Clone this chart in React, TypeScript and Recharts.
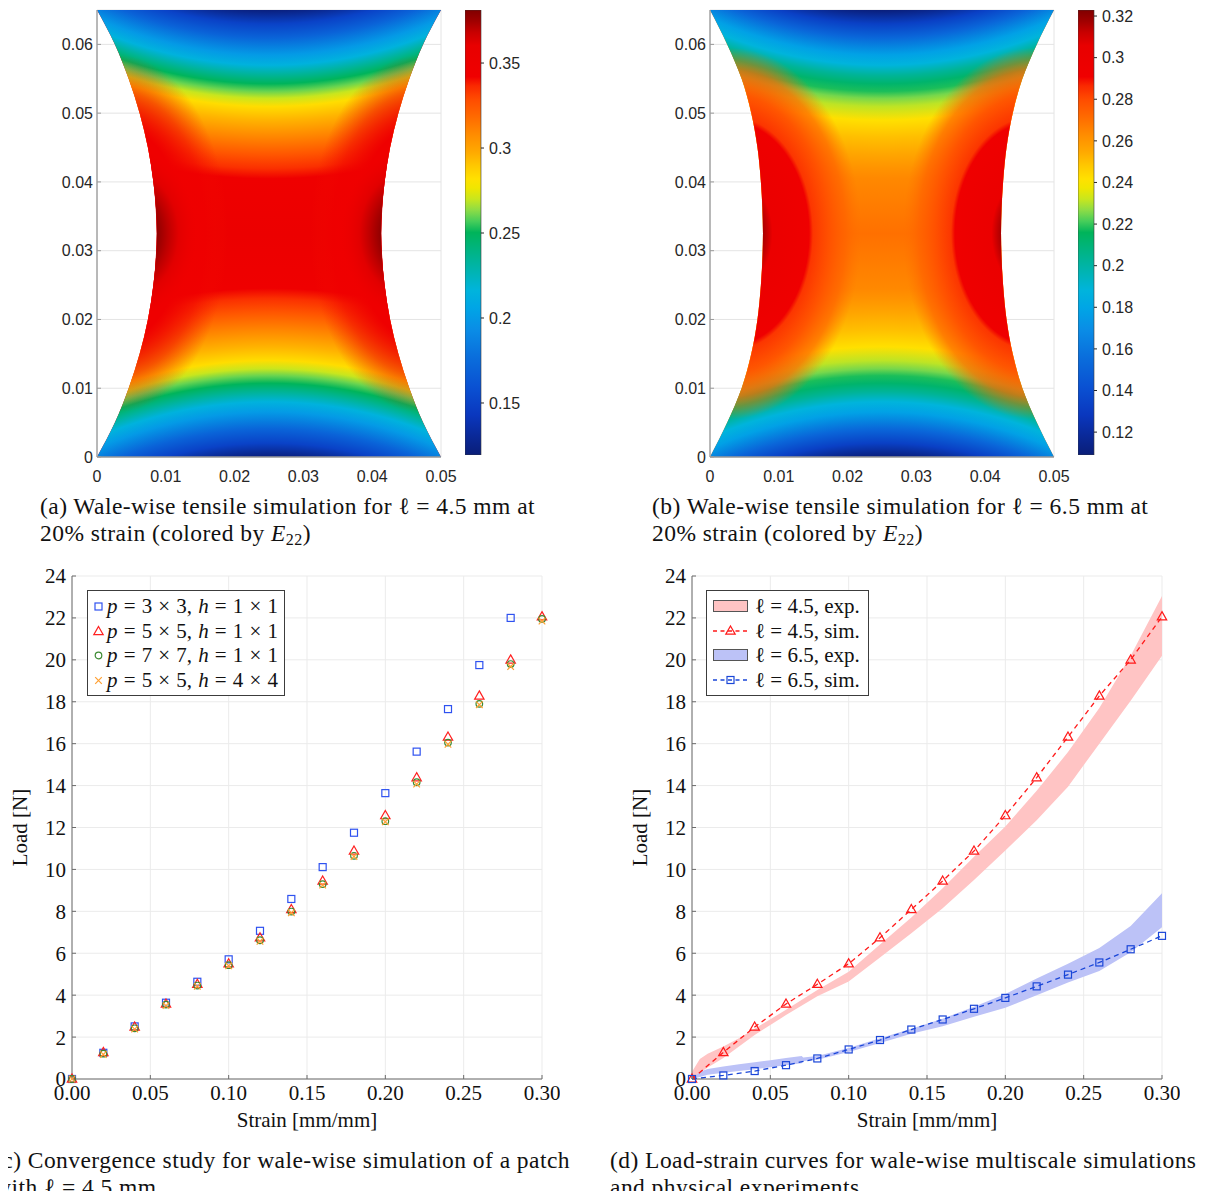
import React from "react";
import {
  ComposedChart,
  BarChart,
  Bar,
  Area,
  Line,
  Scatter,
  XAxis,
  YAxis,
  CartesianGrid,
  Legend,
  Label,
} from "recharts";

const SANS = "'Liberation Sans', Arial, sans-serif";
const SERIF = "'Liberation Serif', 'Times New Roman', serif";

// ---------- specimen outline: edge x [m] at each height y [m]
const shapeY = [0, 0.005, 0.01, 0.015, 0.02, 0.025, 0.0325, 0.04, 0.045, 0.05, 0.055, 0.06, 0.065];
const leftEdgeA = [0, 0.0026, 0.0046, 0.0062, 0.0074, 0.0082, 0.0087, 0.0082, 0.0074, 0.0062, 0.0046, 0.0026, 0];
const rightEdgeA = [0.05, 0.0474, 0.0454, 0.0438, 0.0426, 0.0418, 0.0413, 0.0418, 0.0426, 0.0438, 0.0454, 0.0474, 0.05];
const leftEdgeB = [0, 0.0025, 0.0046, 0.006, 0.0069, 0.0074, 0.0077, 0.0074, 0.0069, 0.006, 0.0046, 0.0025, 0];
const rightEdgeB = [0.05, 0.0475, 0.0454, 0.044, 0.0431, 0.0426, 0.0423, 0.0426, 0.0431, 0.044, 0.0454, 0.0475, 0.05];

// E22 on the centre line, by distance from the clamped edge
const clampDist = [0, 0.002, 0.004, 0.0065, 0.008, 0.0095, 0.0107, 0.0118, 0.0128, 0.014, 0.016, 0.0185, 0.021, 0.023, 0.0245, 0.0325];
const e22CentreA = [0.122, 0.15, 0.17, 0.2, 0.215, 0.235, 0.25, 0.26, 0.27, 0.283, 0.295, 0.31, 0.325, 0.335, 0.345, 0.35];
const e22CentreB = [0.11, 0.133, 0.152, 0.178, 0.188, 0.203, 0.212, 0.218, 0.225, 0.231, 0.242, 0.25, 0.256, 0.261, 0.264, 0.27];

// E22 in the concentrations at the free edges (radial position 0..1)
const haloAtA = [0, 0.6, 0.8, 1];
const haloE22A = [0.345, 0.345, 0.342, 0.34];
const haloAlphaA = [1, 1, 0.55, 0];
const coreAtA = [0, 0.45, 0.6, 0.75, 0.9, 1];
const coreE22A = [0.381, 0.378, 0.37, 0.362, 0.355, 0.35];
const coreAlphaA = [1, 1, 1, 0.95, 0.6, 0];
const lobeAtB = [0, 0.25, 0.32, 0.6, 0.63, 0.75, 0.88, 1];
const lobeE22B = [0.323, 0.316, 0.3, 0.292, 0.284, 0.279, 0.274, 0.27];
const lobeAlphaB = [1, 1, 1, 1, 1, 0.95, 0.7, 0];

// colour bars
const cbRangeA = [0.1194, 0.3812];
const cbTicksA = [0.15, 0.2, 0.25, 0.3, 0.35];
const cbRangeB = [0.109, 0.3229];
const cbTicksB = [0.12, 0.14, 0.16, 0.18, 0.2, 0.22, 0.24, 0.26, 0.28, 0.3, 0.32];
const specXTicks = [0, 0.01, 0.02, 0.03, 0.04, 0.05];
const specYTicks = [0, 0.01, 0.02, 0.03, 0.04, 0.05, 0.06];

// ---------- load-strain data
const strain = [0, 0.02, 0.04, 0.06, 0.08, 0.1, 0.12, 0.14, 0.16, 0.18, 0.2, 0.22, 0.24, 0.26, 0.28, 0.3];
const load3x3 = [0, 1.25, 2.51, 3.64, 4.64, 5.71, 7.07, 8.59, 10.11, 11.75, 13.64, 15.62, 17.65, 19.75, 22.0];
const load5x5 = [0, 1.27, 2.48, 3.58, 4.52, 5.5, 6.74, 8.09, 9.45, 10.88, 12.57, 14.38, 16.32, 18.28, 20.0, 22.06];
const load7x7 = [0, 1.21, 2.42, 3.55, 4.46, 5.43, 6.62, 7.99, 9.3, 10.65, 12.3, 14.16, 16.05, 17.9, 19.8, 21.95];
const load5x5h4 = [0, 1.17, 2.38, 3.5, 4.42, 5.4, 6.57, 7.93, 9.25, 10.62, 12.27, 14.07, 15.97, 17.86, 19.68, 21.85];
const simLoad65 = [0, 0.17, 0.38, 0.66, 0.98, 1.41, 1.86, 2.36, 2.84, 3.35, 3.87, 4.42, 4.98, 5.56, 6.19, 6.83];

const band45Strain = [0, 0.005, 0.01, 0.02, 0.03, 0.04, 0.06, 0.08, 0.1, 0.12, 0.14, 0.16, 0.18, 0.2, 0.22, 0.24, 0.26, 0.28, 0.3];
const band45Lo = [0, 0.3, 0.55, 1.0, 1.55, 2.1, 3.05, 3.95, 4.65, 5.8, 6.95, 8.15, 9.5, 10.9, 12.35, 13.95, 16.0, 18.05, 20.2];
const band45Hi = [0.35, 0.95, 1.2, 1.55, 1.95, 2.4, 3.3, 4.25, 5.12, 6.42, 7.7, 9.1, 10.6, 12.05, 13.75, 15.6, 17.7, 20.2, 23.05];
const band65Strain = [0, 0.005, 0.01, 0.02, 0.03, 0.04, 0.05, 0.06, 0.07, 0.071, 0.08, 0.1, 0.12, 0.14, 0.16, 0.18, 0.2, 0.22, 0.24, 0.26, 0.28, 0.3];
const band65Lo = [0, 0.1, 0.2, 0.3, 0.38, 0.47, 0.56, 0.66, 0.75, 0.86, 0.92, 1.29, 1.72, 2.16, 2.52, 2.97, 3.4, 4.0, 4.6, 5.15, 6.05, 7.24];
const band65Hi = [0, 0.35, 0.48, 0.6, 0.7, 0.8, 0.9, 1.0, 1.1, 1.02, 1.1, 1.48, 1.94, 2.4, 2.88, 3.45, 4.06, 4.8, 5.5, 6.25, 7.3, 8.86];

const loadXTicks = [0, 0.05, 0.1, 0.15, 0.2, 0.25, 0.3];
const loadYTicks = [0, 2, 4, 6, 8, 10, 12, 14, 16, 18, 20, 22, 24];

// ---------- colour map
const JET: [number, string][] = [
  [0, "#0a1e78"], [0.04, "#0a2896"], [0.09, "#0a37be"], [0.15, "#0a50d2"], [0.22, "#0a6edc"],
  [0.28, "#0a8ce6"], [0.33, "#00a5e6"], [0.37, "#00b4dc"], [0.42, "#00b4aa"], [0.46, "#00b482"],
  [0.5, "#00b45a"], [0.525, "#46cd5a"], [0.55, "#8cdc46"], [0.575, "#c8e61e"], [0.6, "#f0e600"],
  [0.62, "#ffe100"], [0.65, "#ffc800"], [0.68, "#ffaa00"], [0.72, "#ff8c00"], [0.76, "#ff6a00"],
  [0.8, "#ff4b00"], [0.83, "#fa2800"], [0.85, "#f00000"], [0.92, "#e80000"], [0.95, "#c80000"],
  [0.975, "#a00000"], [1, "#800000"],
];

const rgb = (h: string) => [1, 3, 5].map((i) => parseInt(h.slice(i, i + 2), 16));

function jet(f: number) {
  const t = Math.min(1, Math.max(0, f));
  let i = 0;
  while (i < JET.length - 2 && JET[i + 1][0] < t) i++;
  const [f0, c0] = JET[i];
  const [f1, c1] = JET[i + 1];
  const w = f1 === f0 ? 0 : (t - f0) / (f1 - f0);
  const a = rgb(c0);
  const b = rgb(c1);
  const m = a.map((v, k) => Math.round(v + (b[k] - v) * w));
  return `rgb(${m[0]},${m[1]},${m[2]})`;
}

const colorOf = (v: number, range: number[]) => jet((v - range[0]) / (range[1] - range[0]));

// ---------- contour field as gradients over the specimen
type Plot = { left: number; top: number; width: number; height: number };
type Lobe = { inset: number; rx: number; ry: number; at: number[]; e22: number[]; alpha: number[] };

const SPEC_W = 0.05;
const SPEC_H = 0.065;
const MID = SPEC_H / 2;
const ARC = 0.055; // arcs near the grips are centred this far beyond the clamp

function fieldDefs(id: string, plot: Plot, centre: number[], range: number[], lobes: Lobe[]) {
  const sx = plot.width / SPEC_W;
  const sy = plot.height / SPEC_H;
  const px = (x: number) => plot.left + x * sx;
  const py = (y: number) => plot.top + (SPEC_H - y) * sy;
  const reach = ARC + clampDist[clampDist.length - 1];
  const base = clampDist.map((d, i) => (
    <stop key={i} offset={(ARC + d) / reach} stopColor={colorOf(centre[i], range)} />
  ));
  const radial = (key: string, cx: number, cy: number, r: number, k: number, stops: React.ReactNode) => (
    <radialGradient
      key={key}
      id={key}
      gradientUnits="userSpaceOnUse"
      cx={cx}
      cy={cy}
      fx={cx}
      fy={cy}
      r={r}
      gradientTransform={`translate(${cx} ${cy}) scale(1 ${k}) translate(${-cx} ${-cy})`}
    >
      {stops}
    </radialGradient>
  );
  return (
    <defs>
      {radial(`${id}-bot`, px(SPEC_W / 2), py(-ARC), reach * sx, 1, base)}
      {radial(`${id}-top`, px(SPEC_W / 2), py(SPEC_H + ARC), reach * sx, 1, base)}
      {lobes.flatMap((lb, j) => {
        const stops = lb.at.map((o, i) => (
          <stop key={i} offset={o} stopColor={colorOf(lb.e22[i], range)} stopOpacity={lb.alpha[i]} />
        ));
        const k = (lb.ry * sy) / (lb.rx * sx);
        return [
          radial(`${id}-l${j}`, px(lb.inset), py(MID), lb.rx * sx, k, stops),
          radial(`${id}-r${j}`, px(SPEC_W - lb.inset), py(MID), lb.rx * sx, k, stops),
        ];
      })}
    </defs>
  );
}

function ColourBar({ id, left, range, ticks }: { id: string; left: number; range: number[]; ticks: number[] }) {
  const data = [{ name: "E22", span: range }];
  return (
    <div style={{ position: "absolute", left, top: 0 }}>
      <BarChart width={80} height={470} data={data} margin={{ top: 10, right: 0, bottom: 15, left: 0 }} barCategoryGap={0}>
        <defs>
          <linearGradient id={`${id}-cb`} x1="0" y1="1" x2="0" y2="0">
            {JET.map(([f, c], i) => (
              <stop key={i} offset={f} stopColor={c} />
            ))}
          </linearGradient>
        </defs>
        <XAxis dataKey="name" hide />
        <YAxis
          orientation="right"
          type="number"
          domain={range}
          ticks={ticks}
          interval={0}
          allowDataOverflow
          width={64}
          axisLine={false}
          tickSize={3}
          tickMargin={5}
          tickLine={{ stroke: "#262626" }}
          tick={{ fill: "#262626", fontSize: 16, fontFamily: SANS }}
        />
        <Bar dataKey="span" fill={`url(#${id}-cb)`} stroke="#3a3a3a" strokeWidth={0.6} isAnimationActive={false} />
      </BarChart>
    </div>
  );
}

type SpecProps = {
  id: string;
  left: number;
  leftEdge: number[];
  rightEdge: number[];
  centre: number[];
  range: number[];
  ticks: number[];
  lobes: Lobe[];
};

function Specimen({ id, left, leftEdge, rightEdge, centre, range, ticks, lobes }: SpecProps) {
  const plot = { left: 97, top: 10, width: 344, height: 447 };
  const rows = shapeY.map((y, i) => ({ y, span: [leftEdge[i], rightEdge[i]] }));
  const lower = rows.filter((r) => r.y <= MID);
  const upper = rows.filter((r) => r.y >= MID);
  const tick = { fill: "#262626", fontSize: 16, fontFamily: SANS };
  const axis = { stroke: "#9a9a9a", strokeWidth: 1.3 };
  const fill = (key: string, data: typeof rows, paint: string) => (
    <Area
      key={key}
      data={data}
      dataKey="span"
      type="monotone"
      stroke="none"
      fill={paint}
      fillOpacity={1}
      dot={false}
      activeDot={false}
      isAnimationActive={false}
    />
  );
  return (
    <>
      <div style={{ position: "absolute", left, top: 0 }}>
        <ComposedChart layout="vertical" width={460} height={490} margin={{ top: plot.top, right: 19, bottom: 0, left: 0 }}>
          {fieldDefs(id, plot, centre, range, lobes)}
          <CartesianGrid stroke="#e4e4e4" />
          <XAxis
            type="number"
            domain={[0, SPEC_W]}
            ticks={specXTicks}
            interval={0}
            height={33}
            tick={tick}
            tickLine={false}
            tickMargin={8}
            axisLine={axis}
          />
          <YAxis
            type="number"
            dataKey="y"
            reversed
            domain={[0, SPEC_H]}
            ticks={specYTicks}
            interval={0}
            width={plot.left}
            tick={tick}
            tickSize={-4}
            tickMargin={8}
            tickLine={{ stroke: "#9a9a9a" }}
            axisLine={axis}
          />
          {fill("base", rows, colorOf(centre[centre.length - 1], range))}
          {fill("bot", lower, `url(#${id}-bot)`)}
          {fill("top", upper, `url(#${id}-top)`)}
          {lobes.flatMap((_, j) => [fill(`l${j}`, rows, `url(#${id}-l${j})`), fill(`r${j}`, rows, `url(#${id}-r${j})`)])}
        </ComposedChart>
      </div>
      <ColourBar id={id} left={left + 465} range={range} ticks={ticks} />
    </>
  );
}

// ---------- markers
function Marker({ kind, cx, cy, color }: { kind: string; cx?: number; cy?: number; color: string }) {
  if (cx == null || cy == null) return null;
  const sw = 1.2;
  if (kind === "square")
    return <rect x={cx - 3.5} y={cy - 3.5} width={7} height={7} fill="none" stroke={color} strokeWidth={sw} />;
  if (kind === "triangle")
    return (
      <path d={`M${cx},${cy - 5} L${cx + 4.7},${cy + 3.2} L${cx - 4.7},${cy + 3.2} Z`} fill="none" stroke={color} strokeWidth={sw} />
    );
  if (kind === "circle") return <circle cx={cx} cy={cy} r={3.3} fill="none" stroke={color} strokeWidth={sw} />;
  return (
    <path
      d={`M${cx - 3.3},${cy - 3.3} L${cx + 3.3},${cy + 3.3} M${cx - 3.3},${cy + 3.3} L${cx + 3.3},${cy - 3.3}`}
      stroke={color}
      strokeWidth={sw}
    />
  );
}

function MathText({ text }: { text: string }) {
  const parts = text.split(/\b([ph])(?= =)/);
  return (
    <span>
      {parts.map((p, i) => (i % 2 === 1 ? <i key={i}>{p}</i> : <span key={i}>{p}</span>))}
    </span>
  );
}

const convergenceSeries = [
  { name: "p = 3 × 3, h = 1 × 1", load: load3x3, kind: "square", color: "#2f52f0" },
  { name: "p = 5 × 5, h = 1 × 1", load: load5x5, kind: "triangle", color: "#ff2020" },
  { name: "p = 7 × 7, h = 1 × 1", load: load7x7, kind: "circle", color: "#3c8a32" },
  { name: "p = 5 × 5, h = 4 × 4", load: load5x5h4, kind: "cross", color: "#ffa033" },
];

const keyBox: React.CSSProperties = {
  border: "1px solid #3c3c3c",
  background: "#fff",
  fontFamily: SERIF,
  fontSize: 21,
  lineHeight: "24.5px",
  color: "#111",
  whiteSpace: "nowrap",
};

function ConvergenceKey() {
  return (
    <div style={{ ...keyBox, padding: "3px 6px 3px 4px", wordSpacing: 0.9 }}>
      {convergenceSeries.map((s) => (
        <div key={s.name} style={{ display: "flex", alignItems: "center" }}>
          <svg width={13} height={14} style={{ marginRight: 2 }}>
            <Marker kind={s.kind} cx={6.5} cy={7.5} color={s.color} />
          </svg>
          <MathText text={s.name} />
        </div>
      ))}
    </div>
  );
}

const RED_SIM = "#ff1a1a";
const BLUE_SIM = "#1a46d8";
const RED_EXP = "#ffc4c4";
const BLUE_EXP = "#bcc2f7";

const loadStrainKey = [
  { label: "ℓ = 4.5, exp.", band: true, color: RED_EXP, kind: "" },
  { label: "ℓ = 4.5, sim.", band: false, color: RED_SIM, kind: "triangle" },
  { label: "ℓ = 6.5, exp.", band: true, color: BLUE_EXP, kind: "" },
  { label: "ℓ = 6.5, sim.", band: false, color: BLUE_SIM, kind: "square" },
];

function LoadStrainKey() {
  return (
    <div style={{ ...keyBox, padding: "3px 8px 3px 6px" }}>
      {loadStrainKey.map((r) => (
        <div key={r.label} style={{ display: "flex", alignItems: "center" }}>
          <svg width={36} height={14} style={{ marginRight: 6 }}>
            {r.band ? (
              <rect x={0.5} y={1.5} width={34} height={11} fill={r.color} stroke="#555" strokeWidth={1} />
            ) : (
              <>
                <line x1={0} y1={7} x2={35} y2={7} stroke={r.color} strokeWidth={1.3} strokeDasharray="4 3.5" />
                <Marker kind={r.kind} cx={17.5} cy={7} color={r.color} />
              </>
            )}
          </svg>
          <span>{r.label}</span>
        </div>
      ))}
    </div>
  );
}

// axes, grid and frame shared by the two load-strain charts
function loadFrame() {
  const tick = { fill: "#111", fontSize: 21, fontFamily: SERIF };
  const line = { stroke: "#6b6b6b" };
  const label = { fontFamily: SERIF, fontSize: 21, fill: "#111" };
  return [
    <CartesianGrid key="grid" stroke="#ebebeb" />,
    <XAxis
      key="x"
      type="number"
      dataKey="x"
      domain={[0, 0.3]}
      ticks={loadXTicks}
      interval={0}
      height={62}
      tick={tick}
      tickFormatter={(v: number) => v.toFixed(2)}
      tickSize={-4}
      tickMargin={10}
      tickLine={line}
      axisLine={line}
    >
      <Label value="Strain [mm/mm]" position="insideBottom" offset={14} style={label} />
    </XAxis>,
    <XAxis
      key="xt"
      xAxisId="top"
      orientation="top"
      type="number"
      domain={[0, 0.3]}
      ticks={loadXTicks}
      height={0}
      tick={false}
      tickSize={-4}
      tickLine={line}
      axisLine={line}
    />,
    <YAxis
      key="y"
      type="number"
      dataKey="y"
      domain={[0, 24]}
      ticks={loadYTicks}
      interval={0}
      width={72}
      tick={tick}
      tickSize={-4}
      tickMargin={10}
      tickLine={line}
      axisLine={line}
    >
      <Label value="Load [N]" angle={-90} position="insideLeft" offset={20} style={{ ...label, textAnchor: "middle" }} />
    </YAxis>,
    <YAxis
      key="yr"
      yAxisId="right"
      orientation="right"
      type="number"
      domain={[0, 24]}
      ticks={loadYTicks}
      width={0}
      tick={false}
      tickSize={-4}
      tickLine={line}
      axisLine={line}
    />,
  ];
}

const points = (xs: number[], ys: number[]) => ys.map((y, i) => ({ x: xs[i], y }));
const band = (xs: number[], lo: number[], hi: number[]) => xs.map((x, i) => ({ x, band: [lo[i], hi[i]] }));

function ConvergenceChart() {
  return (
    <div style={{ position: "absolute", left: 0, top: 560 }}>
      <ComposedChart width={560} height={581} margin={{ top: 16, right: 18, bottom: 0, left: 0 }}>
        {loadFrame()}
        {convergenceSeries.map((s) => (
          <Scatter
            key={s.name}
            name={s.name}
            data={points(strain, s.load)}
            isAnimationActive={false}
            shape={(p: any) => <Marker kind={s.kind} cx={p.cx} cy={p.cy} color={s.color} />}
          />
        ))}
        <Legend
          layout="vertical"
          align="center"
          verticalAlign="middle"
          wrapperStyle={{ left: 87, top: 30, width: "auto" }}
          content={() => <ConvergenceKey />}
        />
      </ComposedChart>
    </div>
  );
}

function LoadStrainChart() {
  const sim = (ys: number[], kind: string, color: string, name: string) => (
    <Line
      key={name}
      name={name}
      data={points(strain, ys)}
      dataKey="y"
      type="linear"
      stroke={color}
      strokeWidth={1.3}
      strokeDasharray="5 4"
      isAnimationActive={false}
      activeDot={false}
      dot={(p: any) => <Marker key={`${name}-${p.index}`} kind={kind} cx={p.cx} cy={p.cy} color={color} />}
    />
  );
  return (
    <div style={{ position: "absolute", left: 620, top: 560 }}>
      <ComposedChart width={560} height={581} margin={{ top: 16, right: 18, bottom: 0, left: 0 }}>
        {loadFrame()}
        <Area
          name="ℓ = 4.5, exp."
          data={band(band45Strain, band45Lo, band45Hi)}
          dataKey="band"
          type="linear"
          stroke="none"
          fill={RED_EXP}
          fillOpacity={1}
          isAnimationActive={false}
          activeDot={false}
        />
        <Area
          name="ℓ = 6.5, exp."
          data={band(band65Strain, band65Lo, band65Hi)}
          dataKey="band"
          type="linear"
          stroke="none"
          fill={BLUE_EXP}
          fillOpacity={1}
          isAnimationActive={false}
          activeDot={false}
        />
        {sim(load5x5, "triangle", RED_SIM, "ℓ = 4.5, sim.")}
        {sim(simLoad65, "square", BLUE_SIM, "ℓ = 6.5, sim.")}
        <Legend
          layout="vertical"
          align="center"
          verticalAlign="middle"
          wrapperStyle={{ left: 86, top: 30, width: "auto" }}
          content={() => <LoadStrainKey />}
        />
      </ComposedChart>
    </div>
  );
}

const caption: React.CSSProperties = {
  position: "absolute",
  fontFamily: SERIF,
  fontSize: 23.5,
  letterSpacing: 0.45,
  lineHeight: "26.5px",
  color: "#111",
  whiteSpace: "nowrap",
};

const E22 = (
  <>
    <i>E</i>
    <span style={{ fontSize: 16, position: "relative", top: 4 }}>22</span>
  </>
);

export default function App() {
  const lobesA: Lobe[] = [
    { inset: 0.003, rx: 0.016, ry: 0.026, at: haloAtA, e22: haloE22A, alpha: haloAlphaA },
    { inset: 0.004, rx: 0.0105, ry: 0.0125, at: coreAtA, e22: coreE22A, alpha: coreAlphaA },
  ];
  const lobesB: Lobe[] = [{ inset: 0.003, rx: 0.019, ry: 0.027, at: lobeAtB, e22: lobeE22B, alpha: lobeAlphaB }];
  return (
    <div style={{ position: "relative", width: 1205, height: 1199, margin: -8, background: "#fff", overflow: "hidden" }}>
      <Specimen
        id="fa"
        left={0}
        leftEdge={leftEdgeA}
        rightEdge={rightEdgeA}
        centre={e22CentreA}
        range={cbRangeA}
        ticks={cbTicksA}
        lobes={lobesA}
      />
      <Specimen
        id="fb"
        left={613}
        leftEdge={leftEdgeB}
        rightEdge={rightEdgeB}
        centre={e22CentreB}
        range={cbRangeB}
        ticks={cbTicksB}
        lobes={lobesB}
      />
      <div style={{ ...caption, left: 40, top: 493 }}>
        (a) Wale-wise tensile simulation for ℓ = 4.5 mm at
        <br />
        20% strain (colored by {E22})
      </div>
      <div style={{ ...caption, left: 652, top: 493 }}>
        (b) Wale-wise tensile simulation for ℓ = 6.5 mm at
        <br />
        20% strain (colored by {E22})
      </div>
      <ConvergenceChart />
      <LoadStrainChart />
      <div style={{ ...caption, left: -6, top: 1147 }}>
        (c) Convergence study for wale-wise simulation of a patch
        <br />
        with ℓ = 4.5 mm
      </div>
      <div style={{ ...caption, left: 610, top: 1147 }}>
        (d) Load-strain curves for wale-wise multiscale simulations
        <br />
        and physical experiments
      </div>
    </div>
  );
}
